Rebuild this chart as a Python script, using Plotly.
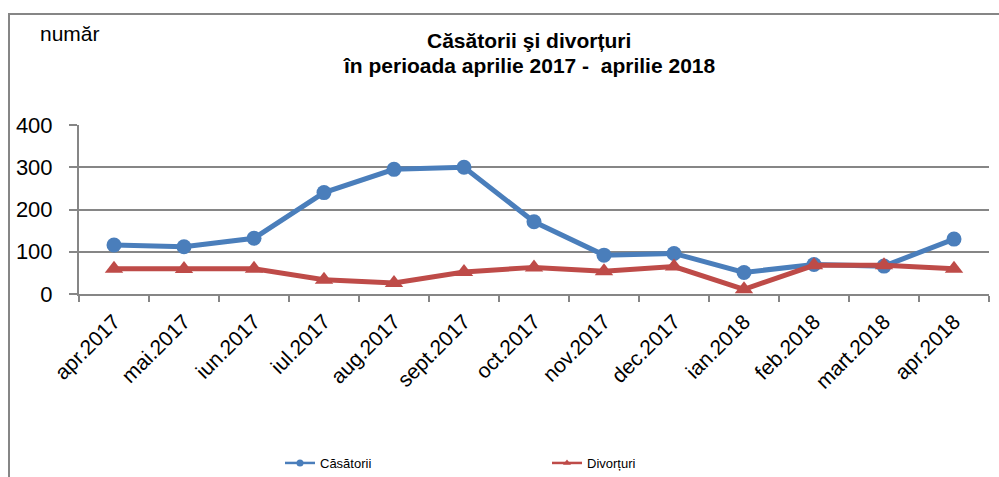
import plotly.graph_objects as go

categories = ["apr.2017", "mai.2017", "iun.2017", "iul.2017", "aug.2017", "sept.2017",
              "oct.2017", "nov.2017", "dec.2017", "ian.2018", "feb.2018", "mart.2018", "apr.2018"]
casatorii = [116, 112, 132, 240, 295, 300, 171, 92, 96, 51, 70, 66, 130]
divorturi = [60, 59, 60, 34, 26, 52, 63, 54, 65, 11, 68, 68, 60]
y_ticks = [0, 100, 200, 300, 400]

W, H = 999, 477
L, R, T, B = 79, 10, 125, 183
pw = W - L - R
ph = H - T - B

def px(x):
    return (x - L) / pw

def py(y):
    return (H - B - y) / ph

BLUE = "#4A7EBB"
RED = "#BE4B48"
GRAY = "#868686"

fig = go.Figure()
fig.add_trace(go.Scatter(
    x=categories, y=casatorii, name="Căsătorii", mode="lines+markers",
    line=dict(color=BLUE, width=5),
    marker=dict(symbol="circle", size=15, color=BLUE), showlegend=False,
))
fig.add_trace(go.Scatter(
    x=categories, y=divorturi, name="Divorțuri", mode="lines+markers",
    line=dict(color=RED, width=5),
    marker=dict(symbol="triangle-up", size=16, color=RED), showlegend=False,
))
# legend entries (small symbols as in the original legend)
fig.add_trace(go.Scatter(
    x=[None], y=[None], name="Căsătorii", mode="lines+markers",
    line=dict(color=BLUE, width=2.5), marker=dict(symbol="circle", size=7, color=BLUE),
))
fig.add_trace(go.Scatter(
    x=[None], y=[None], name="Divorțuri", mode="lines+markers",
    line=dict(color=RED, width=2.5), marker=dict(symbol="triangle-up", size=7, color=RED),
))

fig.update_layout(
    width=W, height=H,
    margin=dict(l=L, r=R, t=T, b=B, autoexpand=False),
    paper_bgcolor="white", plot_bgcolor="white",
    font=dict(family="Liberation Sans, Arial, sans-serif", color="black"),
    showlegend=True,
    legend=dict(orientation="h", x=px(280), xanchor="left", y=py(463), yanchor="middle",
                font=dict(size=13), entrywidth=222, entrywidthmode="pixels",
                bgcolor="rgba(0,0,0,0)"),
    xaxis=dict(
        type="category", range=[-0.5, 12.5], tickangle=-45,
        tickson="boundaries", ticks="outside", ticklen=6, tickcolor=GRAY, tickwidth=2,
        showline=True, linecolor=GRAY, linewidth=2, showgrid=False,
        tickfont=dict(size=21), zeroline=False, automargin=False, ticklabelstandoff=5,
    ),
    yaxis=dict(
        range=[0, 400], tickvals=y_ticks, ticks="outside", ticklen=8,
        tickcolor=GRAY, tickwidth=2,
        showline=True, linecolor=GRAY, linewidth=2,
        showgrid=True, gridcolor=GRAY, gridwidth=2, zeroline=False,
        tickfont=dict(size=22), ticklabelstandoff=12, automargin=False,
    ),
    shapes=[dict(type="rect", xref="paper", yref="paper",
                 x0=px(9), x1=px(1100), y0=py(600), y1=py(14),
                 line=dict(color=GRAY, width=2), fillcolor="rgba(0,0,0,0)", layer="below")],
    annotations=[
        dict(text="<b>Căsătorii şi divorțuri</b>", xref="paper", yref="paper",
             x=px(529), y=py(41), xanchor="center", yanchor="middle", showarrow=False,
             font=dict(size=21)),
        dict(text="<b>în perioada aprilie 2017 -  aprilie 2018</b>", xref="paper", yref="paper",
             x=px(529), y=py(65), xanchor="center", yanchor="middle", showarrow=False,
             font=dict(size=21)),
        dict(text="număr", xref="paper", yref="paper",
             x=px(38), y=py(33), xanchor="left", yanchor="middle", showarrow=False,
             font=dict(size=21)),
    ],
)

fig.write_html("out.html", config={"displayModeBar": False},
               post_script="document.body.style.margin='0';")
